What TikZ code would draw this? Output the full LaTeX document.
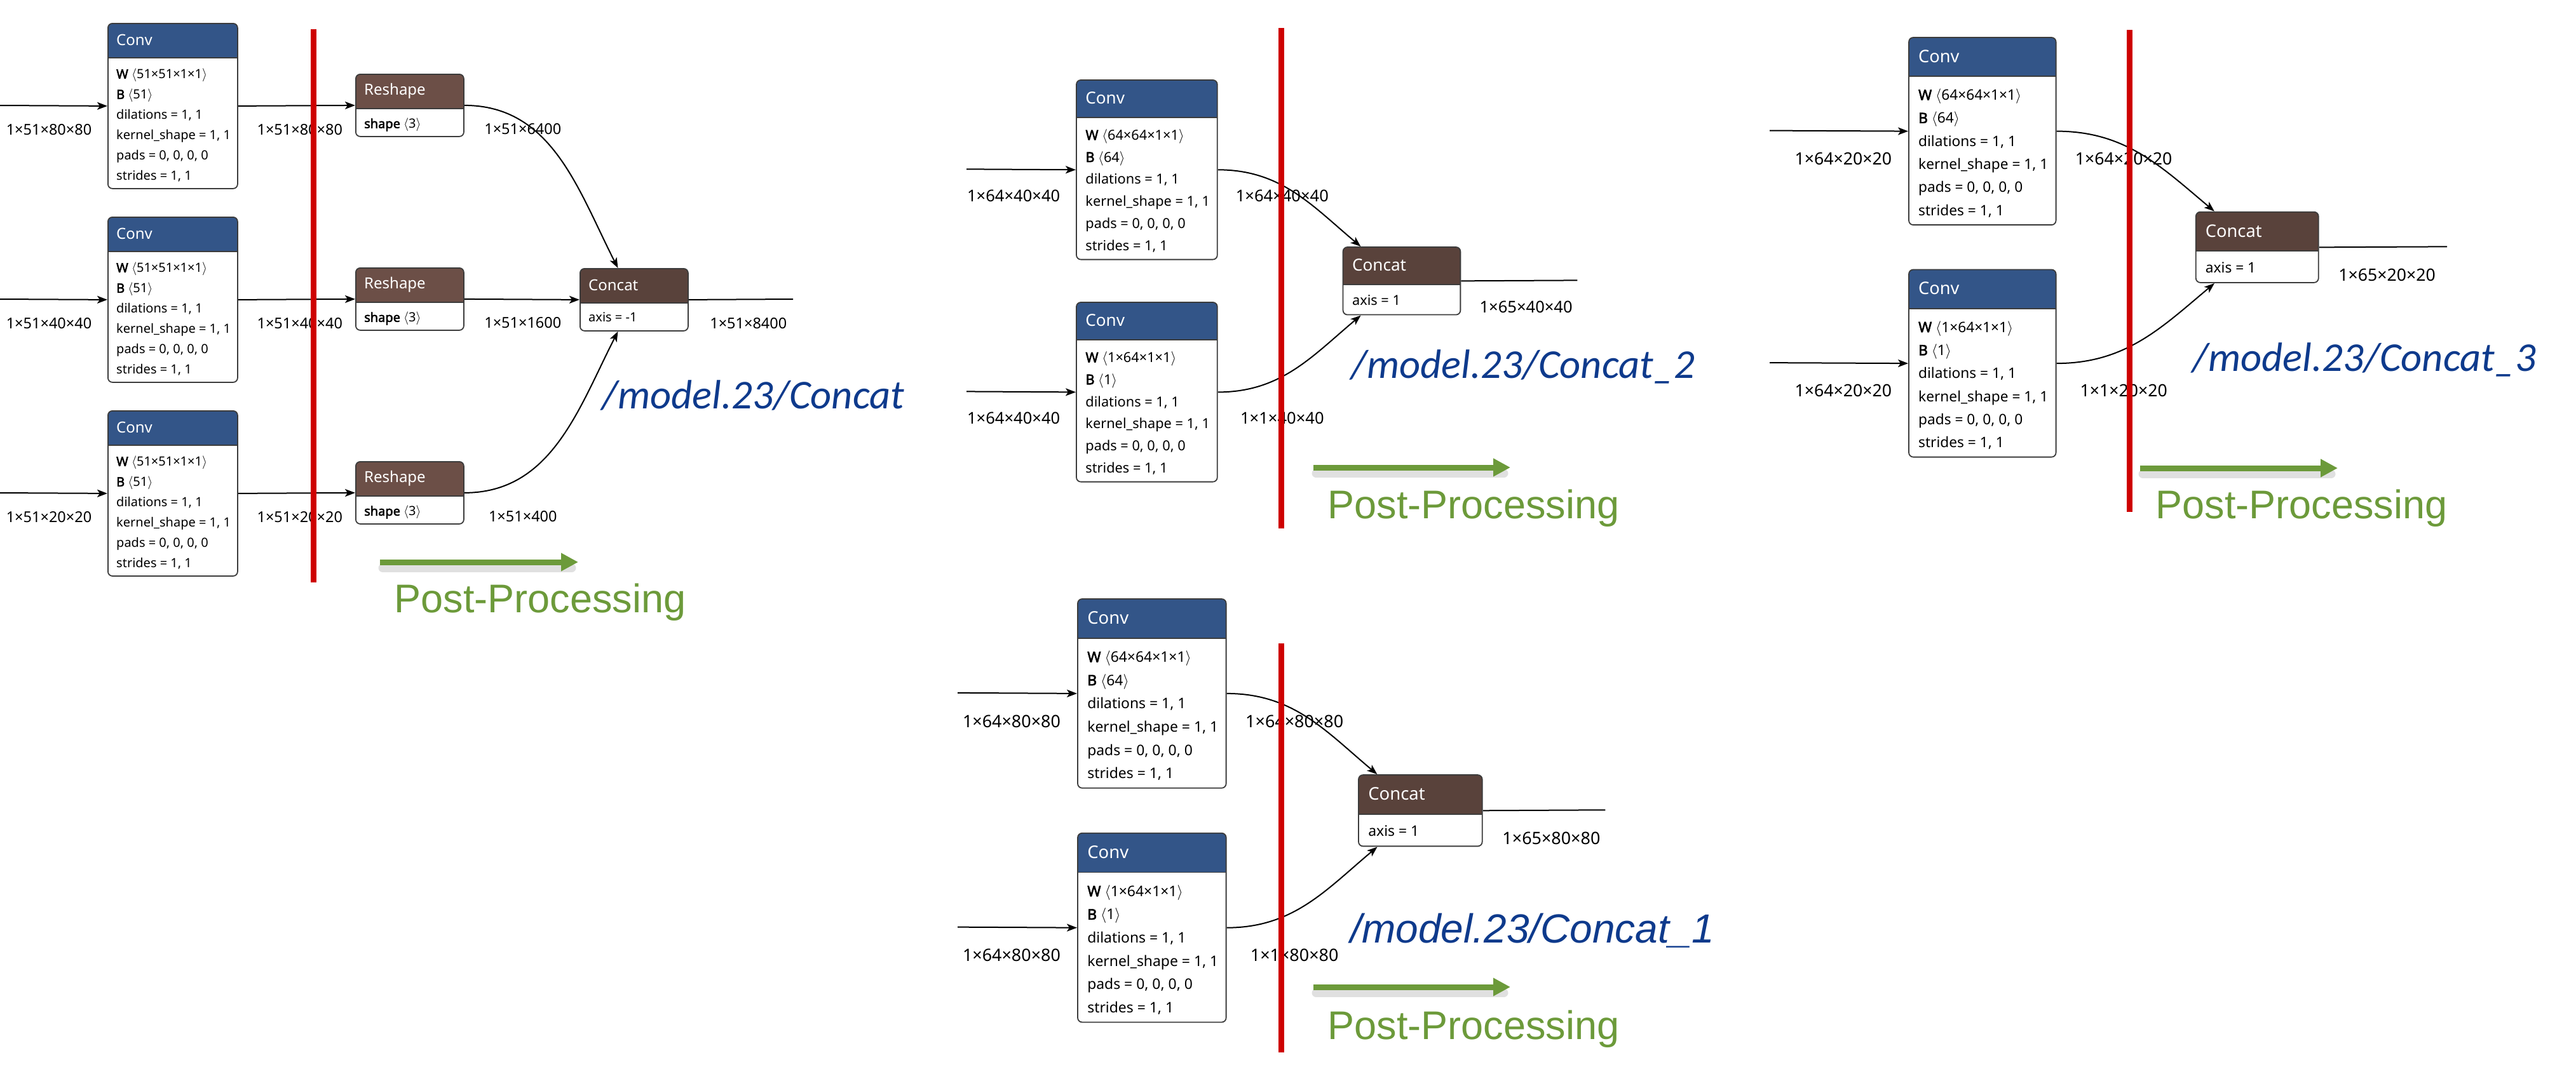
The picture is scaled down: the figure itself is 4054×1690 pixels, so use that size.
\documentclass[tikz,border=0pt]{standalone}
\usepackage{fontspec}
\setmainfont{Noto Sans}[AutoFakeBold=2.5]
\newfontfamily\tagfont{Carlito}
\newfontfamily\postfont{Liberation Sans}
\usetikzlibrary{arrows.meta}

\definecolor{convblue}{RGB}{51,85,136}
\definecolor{shapebrown}{RGB}{108,79,71}
\definecolor{tensorbrown}{RGB}{89,66,59}
\definecolor{boxline}{RGB}{60,60,60}
\definecolor{cutred}{RGB}{206,0,0}
\definecolor{postgreen}{RGB}{108,154,58}
\definecolor{tagblue}{RGB}{14,58,140}

% one Conv block: name, north west corner, W shape, B shape
\newcommand{\convnode}[4]{%
  \node[opbox=convblue, minimum width=204pt, minimum height=260pt] (#1) at (#2) {};
  \node[headtext] at ([xshift=14pt,yshift=-27pt]#1.north west) {Conv};
  \node[bodytext] at ([xshift=14pt,yshift=-72pt]#1.north west)
    {\textbf{W} $\langle$#3$\rangle$\\ \textbf{B} $\langle$#4$\rangle$\\ dilations = 1, 1\\
     kernel\_shape = 1, 1\\ pads = 0, 0, 0, 0\\ strides = 1, 1};}
% small block: name, north west corner, colour, title, attribute
\newcommand{\opnode}[5]{%
  \node[opbox=#3, minimum width=170pt, minimum height=98pt] (#1) at (#2) {};
  \node[headtext] at ([xshift=14pt,yshift=-27pt]#1.north west) {#4};
  \node[bodytext] at ([xshift=14pt,yshift=-70pt]#1.north west) {#5};}

\begin{document}
\begin{tikzpicture}[x=1pt,y=1pt]
\tikzset{opbox/.style = {draw=boxline, line width=1.8pt, rounded corners=7pt, fill=white,
  inner sep=0pt, anchor=north west,
  path picture={\fill[#1, sharp corners] (path picture bounding box.north west)
      rectangle ([yshift=-54pt]path picture bounding box.north east);
    \draw[boxline, line width=1.8pt, sharp corners] ([yshift=-54pt]path picture bounding box.north west)
      -- ([yshift=-54pt]path picture bounding box.north east);}}}
\tikzset{headtext/.style = {anchor=west, inner sep=0pt, text=white, font=\fontsize{24}{28}\selectfont}}
\tikzset{bodytext/.style = {anchor=north west, inner sep=0pt, align=left, font=\fontsize{20}{32}\selectfont}}
\tikzset{dimlabel/.style = {inner sep=0pt, font=\fontsize{23.5}{26}\selectfont}}
\tikzset{edge/.style = {-{Stealth[length=16pt,width=12pt,inset=4pt]}, line width=2pt}}
\tikzset{wire/.style = {line width=2pt}}
\tikzset{cut/.style = {cutred, line width=9pt}}
\tikzset{gostep/.style = {postgreen, line width=9pt, -{Triangle[length=27pt,width=27pt]}}}
\tikzset{goshadow/.style = {black, opacity=0.12, line width=13pt, line cap=round}}
\tikzset{posttext/.style = {text=postgreen, font=\postfont\fontsize{63}{70}\selectfont}}
\tikzset{tagtext/.style = {anchor=west, text=tagblue, font=\tagfont\itshape\fontsize{64.5}{70}\selectfont}}

\fill[white] (0,0) rectangle (4054,-1690);
\useasboundingbox (0,0) rectangle (4054,-1690);

% /model.23/Concat
\convnode{conva}{169,-36}{51×51×1×1}{51}
\convnode{convb}{169,-341}{51×51×1×1}{51}
\convnode{convc}{169,-646}{51×51×1×1}{51}
\opnode{resha}{559,-116}{shapebrown}{Reshape}{\textbf{shape} $\langle$3$\rangle$}
\opnode{reshb}{559,-421}{shapebrown}{Reshape}{\textbf{shape} $\langle$3$\rangle$}
\opnode{reshc}{559,-726}{shapebrown}{Reshape}{\textbf{shape} $\langle$3$\rangle$}
\opnode{cata}{912,-422}{tensorbrown}{Concat}{axis = -1}
\coordinate (ina) at (0,-166);
\coordinate (inb) at (0,-471);
\coordinate (inc) at (0,-776);
\coordinate (outa) at (1248,-471);

\draw[edge] (ina) -- (conva.west);
\draw[edge] (inb) -- (convb.west);
\draw[edge] (inc) -- (convc.west);
\draw[edge] (conva.east) -- (resha.west);
\draw[edge] (convb.east) -- (reshb.west);
\draw[edge] (convc.east) -- (reshc.west);
\draw[edge] (resha.east) to[out=0,in=117] (cata);
\draw[edge] (reshb.east) -- (cata.west);
\draw[edge] (reshc.east) to[out=0,in=-117] (cata);
\draw[wire] (cata.east) -- (outa);

\node[dimlabel] at ([xshift=-92pt,yshift=-37pt]conva.west) {1×51×80×80};
\node[dimlabel] at ([xshift=-92pt,yshift=-37pt]convb.west) {1×51×40×40};
\node[dimlabel] at ([xshift=-92pt,yshift=-37pt]convc.west) {1×51×20×20};
\node[dimlabel] at ([xshift=97pt,yshift=-37pt]conva.east) {1×51×80×80};
\node[dimlabel] at ([xshift=97pt,yshift=-37pt]convb.east) {1×51×40×40};
\node[dimlabel] at ([xshift=97pt,yshift=-37pt]convc.east) {1×51×20×20};
\node[dimlabel] at ([xshift=92pt,yshift=-37pt]resha.east) {1×51×6400};
\node[dimlabel] at ([xshift=92pt,yshift=-37pt]reshb.east) {1×51×1600};
\node[dimlabel] at ([xshift=92pt,yshift=-37pt]reshc.east) {1×51×400};
\node[dimlabel] at ([xshift=94pt,yshift=-37pt]cata.east) {1×51×8400};

% /model.23/Concat_2
\begin{scope}[shift={(1693,-125)}, scale=1.087, transform shape]
\convnode{convd}{0,0}{64×64×1×1}{64}
\convnode{conve}{0,-322}{1×64×1×1}{1}
\opnode{catb}{386,-242}{tensorbrown}{Concat}{axis = 1}
\coordinate (ind) at (-158,-130);
\coordinate (ine) at (-158,-452);
\coordinate (outb) at (726,-291);
\draw[edge] (ind) -- (convd.west);
\draw[edge] (ine) -- (conve.west);
\draw[edge] (convd.east) to[out=0,in=140] (catb);
\draw[edge] (conve.east) to[out=0,in=-140] (catb);
\draw[wire] (catb.east) -- (outb);
\node[dimlabel] at ([xshift=-90pt,yshift=-38pt]convd.west) {1×64×40×40};
\node[dimlabel] at ([xshift=-90pt,yshift=-38pt]conve.west) {1×64×40×40};
\node[dimlabel] at ([xshift=93pt,yshift=-38pt]convd.east) {1×64×40×40};
\node[dimlabel] at ([xshift=93pt,yshift=-38pt]conve.east) {1×1×40×40};
\node[dimlabel] at ([xshift=94pt,yshift=-38pt]catb.east) {1×65×40×40};
\end{scope}

% /model.23/Concat_3
\begin{scope}[shift={(3003,-58)}, scale=1.135, transform shape]
\convnode{convf}{0,0}{64×64×1×1}{64}
\convnode{convg}{0,-322}{1×64×1×1}{1}
\opnode{catc}{398,-242}{tensorbrown}{Concat}{axis = 1}
\coordinate (inf) at (-192,-130);
\coordinate (ing) at (-192,-452);
\coordinate (outc) at (747,-291);
\draw[edge] (inf) -- (convf.west);
\draw[edge] (ing) -- (convg.west);
\draw[edge] (convf.east) to[out=0,in=140] (catc);
\draw[edge] (convg.east) to[out=0,in=-140] (catc);
\draw[wire] (catc.east) -- (outc);
\node[dimlabel] at ([xshift=-90pt,yshift=-38pt]convf.west) {1×64×20×20};
\node[dimlabel] at ([xshift=-90pt,yshift=-38pt]convg.west) {1×64×20×20};
\node[dimlabel] at ([xshift=93pt,yshift=-38pt]convf.east) {1×64×20×20};
\node[dimlabel] at ([xshift=93pt,yshift=-38pt]convg.east) {1×1×20×20};
\node[dimlabel] at ([xshift=94pt,yshift=-38pt]catc.east) {1×65×20×20};
\end{scope}

% /model.23/Concat_1
\begin{scope}[shift={(1695,-942)}, scale=1.145, transform shape]
\convnode{convh}{0,0}{64×64×1×1}{64}
\convnode{convi}{0,-322}{1×64×1×1}{1}
\opnode{catd}{386,-242}{tensorbrown}{Concat}{axis = 1}
\coordinate (inh) at (-164,-130);
\coordinate (ini) at (-164,-452);
\coordinate (outd) at (726,-291);
\draw[edge] (inh) -- (convh.west);
\draw[edge] (ini) -- (convi.west);
\draw[edge] (convh.east) to[out=0,in=140] (catd);
\draw[edge] (convi.east) to[out=0,in=-140] (catd);
\draw[wire] (catd.east) -- (outd);
\node[dimlabel] at ([xshift=-90pt,yshift=-38pt]convh.west) {1×64×80×80};
\node[dimlabel] at ([xshift=-90pt,yshift=-38pt]convi.west) {1×64×80×80};
\node[dimlabel] at ([xshift=93pt,yshift=-38pt]convh.east) {1×64×80×80};
\node[dimlabel] at ([xshift=93pt,yshift=-38pt]convi.east) {1×1×80×80};
\node[dimlabel] at ([xshift=94pt,yshift=-38pt]catd.east) {1×65×80×80};
\end{scope}

% red cut lines
\coordinate (cuta1) at (493,-46);   \coordinate (cuta2) at (493,-917);
\coordinate (cutb1) at (2016,-44);  \coordinate (cutb2) at (2016,-832);
\coordinate (cutc1) at (3351,-47);  \coordinate (cutc2) at (3351,-806);
\coordinate (cutd1) at (2016,-1013); \coordinate (cutd2) at (2016,-1657);
\draw[cut] (cuta1) -- (cuta2);
\draw[cut] (cutb1) -- (cutb2);
\draw[cut] (cutc1) -- (cutc2);
\draw[cut] (cutd1) -- (cutd2);

% green arrows
\coordinate (goa1) at (598,-885);  \coordinate (goa2) at (910,-885);
\coordinate (gob1) at (2067,-736); \coordinate (gob2) at (2377,-736);
\coordinate (goc1) at (3368,-737); \coordinate (goc2) at (3679,-737);
\coordinate (god1) at (2067,-1554); \coordinate (god2) at (2377,-1554);
\foreach \g in {goa,gob,goc,god}{
  \draw[goshadow] ([xshift=4pt,yshift=-9pt]\g1) -- ([xshift=-10pt,yshift=-9pt]\g2);
  \draw[gostep] (\g1) -- (\g2);
}

\node[posttext] (posta) at (850,-948) {Post-Processing};
\node[posttext] (postb) at (2319,-800) {Post-Processing};
\node[posttext] (postc) at (3622,-800) {Post-Processing};
\node[posttext] (postd) at (2319,-1620) {Post-Processing};

\node[tagtext] (taga) at (944,-622) {/model.23/Concat};
\node[tagtext] (tagb) at (2123,-577) {/model.23/Concat\_2};
\node[tagtext] (tagc) at (3447,-566) {/model.23/Concat\_3};
\node[tagtext, font=\postfont\itshape\fontsize{64}{70}\selectfont] (tagd) at (2122,-1465) {/model.23/Concat\_1};
\end{tikzpicture}
\end{document}
